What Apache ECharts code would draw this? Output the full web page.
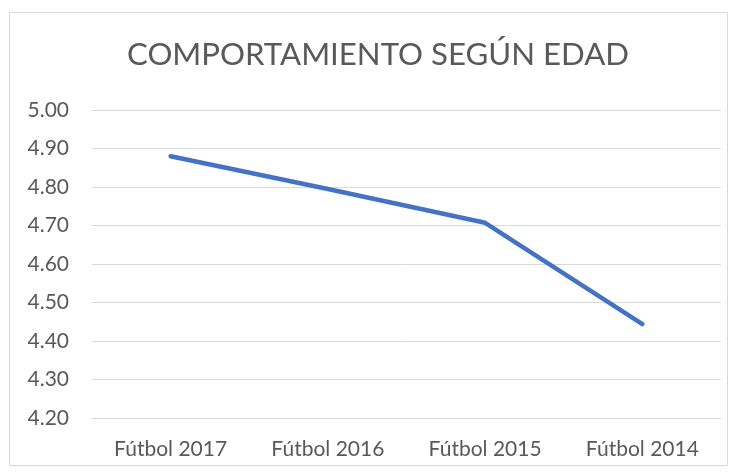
<!DOCTYPE html>
<html>
<head>
<meta charset="utf-8">
<style>
  html, body { margin: 0; padding: 0; background: #fff; }
  #chart { width: 739px; height: 472px; }
</style>
<script src="https://cdn.jsdelivr.net/npm/echarts@6/dist/echarts.min.js"></script>
</head>
<body>
<div id="chart"></div>
<script>
// Chart data
const categories = ['Fútbol 2017', 'Fútbol 2016', 'Fútbol 2015', 'Fútbol 2014'];
const scores = [4.88, 4.795, 4.707, 4.444];
const yTicks = { min: 4.2, max: 5.0, step: 0.1 };

const chart = echarts.init(document.getElementById('chart'));

const option = {
    backgroundColor: '#ffffff',
    animation: false,
    title: {
        text: 'COMPORTAMIENTO SEGÚN EDAD',
        left: 122,
        top: 34,
        textStyle: {
            fontFamily: 'Lato',
            fontWeight: 400,
            fontSize: 31.2,
            color: '#595959'
        }
    },
    graphic: [{
        type: 'rect',
        shape: { x: 9.5, y: 12.5, width: 718, height: 453 },
        style: { fill: 'none', stroke: '#d9d9d9', lineWidth: 1 },
        silent: true
    }],
    grid: { left: 92, right: 18, top: 110, bottom: 54 },
    xAxis: {
        type: 'category',
        data: categories,
        boundaryGap: true,
        axisLine: { show: true, lineStyle: { color: '#d9d9d9', width: 1 } },
        axisTick: { show: false },
        axisLabel: {
            margin: 21,
            fontFamily: 'Lato',
            fontSize: 21,
            color: '#595959'
        }
    },
    yAxis: {
        type: 'value',
        min: yTicks.min,
        max: yTicks.max,
        interval: yTicks.step,
        axisLine: { show: false },
        axisTick: { show: false },
        splitLine: { lineStyle: { color: '#d9d9d9', width: 1 } },
        axisLabel: {
            margin: 23,
            fontFamily: 'Lato',
            fontSize: 21,
            color: '#595959',
            formatter: v => v.toFixed(2)
        }
    },
    series: [{
        type: 'line',
        data: scores,
        symbol: 'none',
        lineStyle: { color: '#4472c4', width: 4.5, cap: 'round', join: 'round' }
    }]
};

chart.setOption(option);
</script>
</body>
</html>
